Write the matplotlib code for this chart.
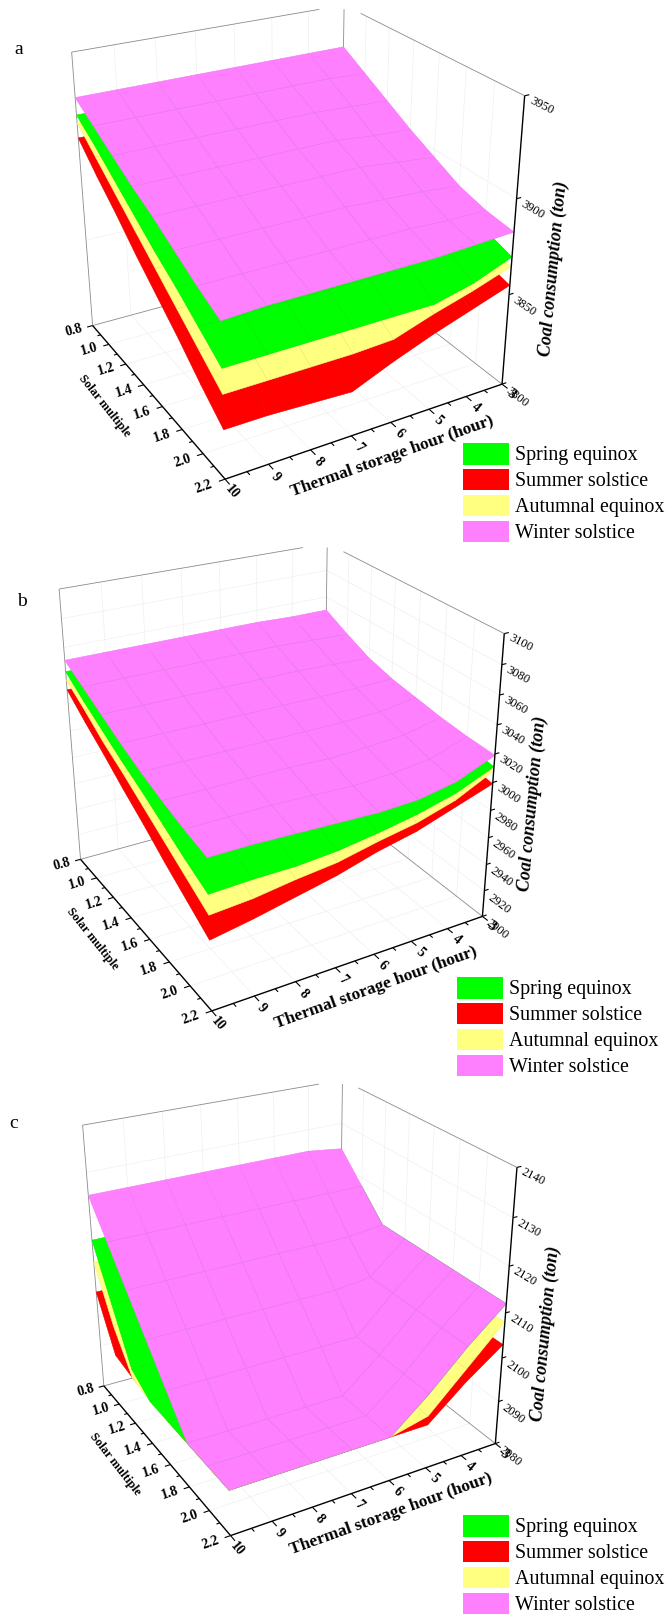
import numpy as np
import matplotlib
matplotlib.use('Agg')
import matplotlib.pyplot as plt
from matplotlib.patches import Patch
from mpl_toolkits.mplot3d.art3d import Line3DCollection

plt.rcParams['font.family'] = ['Liberation Serif', 'DejaVu Serif']

W, H = 669, 1618

# Axes values
hours = [10, 9, 8, 7, 6, 5, 4, 3]
solar = [0.8, 1.0, 1.2, 1.4, 1.6, 1.8, 2.0, 2.2]
hour_labels = ['10', '9', '8', '7', '6', '5', '4', '3']
solar_labels = ['0.8', '1.0', '1.2', '1.4', '1.6', '1.8', '2.0', '2.2']
z_ticks_a = [3800, 3850, 3900, 3950]
z_ticks_b = [2900, 2920, 2940, 2960, 2980, 3000, 3020, 3040, 3060, 3080, 3100]
z_ticks_c = [2080, 2090, 2100, 2110, 2120, 2130, 2140]

season_names = ['Spring equinox', 'Summer solstice', 'Autumnal equinox', 'Winter solstice']
season_colors = ['#00FF00', '#FF0000', '#FFFF80', '#FF80FF']

# Coal consumption, rows = solar multiple, columns = hours 10..3
spring_a = [[3918, 3918, 3918, 3918, 3918, 3918, 3917, 3917],
            [3910, 3910, 3910, 3910, 3910, 3910, 3910, 3909],
            [3901, 3901, 3901, 3901, 3901, 3901, 3902, 3902],
            [3892, 3892, 3892, 3892, 3892, 3893, 3894, 3895],
            [3883, 3883, 3883, 3883, 3883, 3884, 3886, 3888],
            [3875, 3875, 3875, 3875, 3875, 3876, 3878, 3881],
            [3866, 3866, 3866, 3866, 3866, 3867, 3870, 3875],
            [3857, 3857, 3857, 3857, 3857, 3857, 3862, 3870]]
summer_a = [[3906, 3906, 3906, 3906, 3906, 3906, 3905, 3905],
            [3894, 3894, 3894, 3894, 3894, 3895, 3895, 3895],
            [3883, 3883, 3883, 3883, 3883, 3884, 3885, 3885],
            [3871, 3871, 3871, 3871, 3872, 3874, 3875, 3877],
            [3860, 3860, 3860, 3860, 3862, 3864, 3867, 3870],
            [3849, 3849, 3849, 3848, 3852, 3855, 3859, 3864],
            [3837, 3837, 3837, 3836, 3842, 3848, 3853, 3859],
            [3826, 3826, 3825, 3824, 3833, 3841, 3848, 3855]]
autumn_a = [[3914, 3914, 3914, 3914, 3914, 3914, 3913, 3913],
            [3904, 3904, 3904, 3904, 3904, 3904, 3904, 3904],
            [3894, 3894, 3894, 3894, 3894, 3894, 3894, 3895],
            [3884, 3884, 3884, 3884, 3884, 3885, 3886, 3887],
            [3874, 3874, 3874, 3874, 3874, 3876, 3878, 3880],
            [3864, 3864, 3864, 3864, 3864, 3868, 3871, 3874],
            [3854, 3854, 3854, 3854, 3854, 3860, 3864, 3869],
            [3844, 3844, 3844, 3844, 3845, 3852, 3858, 3865]]
winter_a = [[3927, 3927, 3927, 3927, 3927, 3927, 3927, 3927],
            [3920, 3920, 3920, 3920, 3920, 3920, 3920, 3919],
            [3913, 3913, 3913, 3913, 3913, 3913, 3912, 3911],
            [3906, 3906, 3906, 3906, 3906, 3906, 3904, 3903],
            [3900, 3900, 3900, 3900, 3900, 3900, 3898, 3896],
            [3893, 3893, 3893, 3893, 3893, 3892, 3891, 3889],
            [3886, 3886, 3886, 3886, 3886, 3886, 3885, 3885],
            [3880, 3881, 3881, 3881, 3881, 3881, 3882, 3883]]

spring_b = [[3043, 3043, 3043, 3043, 3043, 3043, 3042, 3042],
            [3033, 3033, 3034, 3034, 3034, 3035, 3035, 3036],
            [3024, 3024, 3025, 3025, 3026, 3027, 3028, 3030],
            [3015, 3015, 3016, 3016, 3017, 3019, 3021, 3026],
            [3007, 3007, 3008, 3008, 3009, 3011, 3015, 3021],
            [2998, 2999, 2999, 3000, 3001, 3004, 3009, 3017],
            [2989, 2990, 2991, 2992, 2995, 2998, 3004, 3014],
            [2981, 2982, 2982, 2984, 2988, 2993, 3000, 3011]]
summer_b = [[3030, 3030, 3030, 3030, 3030, 3030, 3029, 3029],
            [3018, 3019, 3020, 3021, 3021, 3022, 3022, 3023],
            [3007, 3008, 3009, 3010, 3012, 3014, 3015, 3017],
            [2995, 2997, 2999, 3000, 3002, 3005, 3008, 3012],
            [2984, 2987, 2989, 2992, 2994, 2997, 3002, 3008],
            [2972, 2976, 2980, 2983, 2986, 2990, 2997, 3005],
            [2961, 2966, 2970, 2975, 2980, 2985, 2993, 3002],
            [2950, 2955, 2961, 2967, 2975, 2981, 2990, 2999]]
autumn_b = [[3037, 3037, 3037, 3037, 3037, 3037, 3036, 3036],
            [3027, 3027, 3028, 3028, 3029, 3029, 3029, 3030],
            [3016, 3017, 3018, 3018, 3019, 3020, 3022, 3025],
            [3007, 3008, 3008, 3009, 3011, 3012, 3015, 3020],
            [2997, 2998, 3000, 3001, 3003, 3005, 3009, 3016],
            [2987, 2989, 2991, 2992, 2995, 2998, 3003, 3013],
            [2977, 2979, 2982, 2984, 2988, 2992, 2998, 3010],
            [2967, 2969, 2973, 2976, 2982, 2987, 2995, 3008]]
winter_b = [[3051, 3051, 3051, 3051, 3051, 3051, 3050, 3050],
            [3043, 3043, 3043, 3043, 3043, 3043, 3042, 3041],
            [3035, 3035, 3035, 3035, 3035, 3035, 3034, 3033],
            [3027, 3027, 3027, 3027, 3027, 3027, 3027, 3028],
            [3020, 3020, 3020, 3020, 3020, 3020, 3021, 3025],
            [3014, 3014, 3014, 3014, 3013, 3014, 3016, 3022],
            [3009, 3009, 3009, 3008, 3007, 3008, 3011, 3020],
            [3005, 3005, 3004, 3003, 3002, 3003, 3008, 3019]]

spring_c = [[2115, 2115, 2115, 2115, 2115, 2115, 2115, 2114],
            [2104, 2104, 2104, 2104, 2104, 2104, 2105, 2118],
            [2093, 2093, 2093, 2093, 2093, 2097, 2105, 2112],
            [2090, 2090, 2090, 2090, 2090, 2097, 2105, 2112],
            [2090, 2090, 2090, 2090, 2090, 2097, 2105, 2112],
            [2090, 2090, 2090, 2090, 2090, 2097, 2105, 2112],
            [2090, 2090, 2090, 2090, 2090, 2097, 2105, 2112],
            [2090, 2090, 2090, 2090, 2090, 2097, 2105, 2112]]
summer_c = [[2103, 2103, 2103, 2103, 2103, 2103, 2103, 2103],
            [2092, 2092, 2092, 2092, 2092, 2092, 2097, 2103],
            [2091, 2091, 2091, 2091, 2091, 2091, 2097, 2103],
            [2091, 2091, 2091, 2091, 2091, 2091, 2097, 2103],
            [2090, 2090, 2090, 2090, 2090, 2090, 2097, 2103],
            [2090, 2090, 2090, 2090, 2090, 2090, 2097, 2103],
            [2090, 2090, 2090, 2090, 2090, 2090, 2097, 2103],
            [2090, 2090, 2090, 2090, 2090, 2090, 2097, 2103]]
autumn_c = [[2110, 2110, 2110, 2110, 2110, 2110, 2110, 2110],
            [2099, 2099, 2099, 2099, 2099, 2099, 2100, 2108],
            [2091, 2091, 2091, 2091, 2091, 2092, 2100, 2108],
            [2090, 2090, 2090, 2090, 2090, 2092, 2100, 2108],
            [2090, 2090, 2090, 2090, 2090, 2092, 2100, 2108],
            [2090, 2090, 2090, 2090, 2090, 2092, 2100, 2108],
            [2090, 2090, 2090, 2090, 2090, 2092, 2100, 2108],
            [2090, 2090, 2090, 2090, 2090, 2092, 2100, 2108]]
winter_c = [[2125, 2125, 2125, 2125, 2125, 2125, 2125, 2124],
            [2118, 2118, 2118, 2118, 2118, 2118, 2118, 2118],
            [2111, 2111, 2111, 2111, 2111, 2111, 2111, 2112],
            [2104, 2104, 2104, 2104, 2104, 2104, 2105, 2112],
            [2097, 2097, 2097, 2097, 2097, 2097, 2105, 2112],
            [2090, 2090, 2090, 2090, 2090, 2097, 2105, 2112],
            [2090, 2090, 2090, 2090, 2090, 2097, 2105, 2112],
            [2090, 2090, 2090, 2090, 2090, 2097, 2105, 2112]]

SX, SY = 2.344, 2.904
calib_a = [(10, 0.8, 3800, 215, 950), (10, 2.2, 3800, 527, 1388), (3, 2.2, 3800, 1172, 1120),
           (3, 0.8, 3800, 800, 745), (10, 0.8, 3950, 170, 150), (3, 0.8, 3950, 804, 17),
           (3, 2.2, 3950, 1228, 275), (3, 2.2, 3900, 1213, 580), (3, 2.2, 3850, 1197, 855),
           (7, 2.2, 3800, 825, 1265)]
calib_b = [(10, 0.8, 2900, 185, 930), (10, 2.2, 2900, 497, 1362), (3, 2.2, 2900, 1128, 1097),
           (3, 0.8, 2900, 762, 728), (10, 0.8, 3100, 140, 143), (3, 0.8, 3100, 766, 13),
           (3, 2.2, 3100, 1183, 265), (3, 2.2, 3020, 1160, 622), (3, 2.2, 3000, 1153, 708),
           (7, 2.2, 2900, 790, 1245)]
calib_c = [(10, 0.8, 2080, 240, 900), (10, 2.2, 2080, 540, 1325), (3, 2.2, 2080, 1160, 1065),
           (3, 0.8, 2080, 800, 700), (10, 0.8, 2140, 197, 135), (3, 0.8, 2140, 798, 9),
           (3, 2.2, 2140, 1215, 258), (3, 2.2, 2110, 1183, 680), (3, 2.2, 2090, 1168, 945),
           (7, 2.2, 2080, 825, 1205)]


def fit_camera(calib, y0):
    """Least squares pinhole matrix from (hour, solar, z) to figure pixels"""
    rows, rhs = [], []
    for h, s, z, px, py in calib:
        u, v = px / SX, H - (y0 + py / SY)
        rows.append([h, s, z, 1, 0, 0, 0, 0, -u * h, -u * s, -u * z])
        rows.append([0, 0, 0, 0, h, s, z, 1, -v * h, -v * s, -v * z])
        rhs += [u, v]
    rows, rhs = np.array(rows, float), np.array(rhs, float)
    scale = np.abs(rows).max(axis=0)
    p = np.linalg.lstsq(rows / scale, rhs, rcond=None)[0] / scale
    return np.append(p, 1.0).reshape(3, 4)


def use_camera(ax, cam, zmin, zmax):
    # mplot3d has no free camera matrix, so replace the projection it asks for
    w = cam[2] @ [6.5, 1.5, (zmin + zmax) / 2, 1]
    cam = cam / w
    depth = np.array([-1 / 7, -1 / 1.4, -1 / (zmax - zmin), 10 / 7 + 2.2 / 1.4 + zmin / (zmax - zmin)])

    def get_proj():
        inv = ax.transData.inverted().get_matrix()
        top = inv @ cam
        return np.vstack([top[0], top[1], depth, top[2]])
    ax.get_proj = get_proj


def put_text(cam, h, s, z, txt, direction, **kw):
    # rotation follows a box direction, like the perspective labels of the original
    p = cam @ [h, s, z, 1]
    q = cam @ [h + direction[0], s + direction[1], z + direction[2], 1]
    u, v = p[:2] / p[2]
    du, dv = q[:2] / q[2] - p[:2] / p[2]
    fig.text(u / W, v / H, txt, rotation=np.degrees(np.arctan2(dv, du)), rotation_mode='anchor',
             ha='center', va='center', **kw)


def draw_panel(box, cam, z_ticks, surfaces, gap_h, gap_s):
    ax = fig.add_axes(box, projection='3d', computed_zorder=False)
    ax.set_axis_off()
    ax.patch.set_visible(False)
    zmin, zmax = z_ticks[0], z_ticks[-1]
    use_camera(ax, cam, zmin, zmax)
    h0, h1, s0, s1 = hours[0], hours[-1], solar[0], solar[-1]

    # faint grid on floor and the two back walls
    grid = []
    for h in hours[1:-1]:
        grid.append([(h, s0, zmin), (h, s1, zmin)])
        grid.append([(h, s0, zmin), (h, s0, zmax)])
    for s in solar[1:-1]:
        grid.append([(h0, s, zmin), (h1, s, zmin)])
        grid.append([(h1, s, zmin), (h1, s, zmax)])
    for z in z_ticks[1:-1]:
        grid.append([(h0, s0, z), (h1, s0, z)])
        grid.append([(h1, s0, z), (h1, s1, z)])
    ax.add_collection3d(Line3DCollection(grid, colors='#f0f0f0', linewidths=0.5, zorder=1))

    # box edges, the back corner is cut off in the picture
    ztop = zmin + 0.985 * (zmax - zmin)
    edges = [[(h0, s0, zmin), (h1, s0, zmin)], [(h1, s0, zmin), (h1, s1, zmin)],
             [(h0, s0, zmin), (h0, s0, zmax)], [(h1, s0, zmin), (h1, s0, ztop)],
             [(h0, s0, zmax), (gap_h, s0, zmax)], [(h1, gap_s, zmax), (h1, s1, zmax)]]
    ax.add_collection3d(Line3DCollection(edges, colors='#8a8a8a', linewidths=0.6, zorder=1.5))

    X, Y = np.meshgrid(hours, solar)
    mesh = {'#FF0000': '#EF0000', '#FFFF80': '#F4F47A', '#00FF00': '#00EE00', '#FF80FF': '#F276F4'}
    # lowest surface first
    for order, i in enumerate([1, 2, 0, 3]):
        c = season_colors[i]
        ax.plot_surface(X, Y, np.array(surfaces[i], float), color=c, edgecolor=mesh[c],
                        linewidth=0.4, shade=False, zorder=2 + order)

    # axis lines and ticks
    axis = [[(h0, s0, zmin), (h0, s1, zmin)], [(h0, s1, zmin), (h1, s1, zmin)], [(h1, s1, zmin), (h1, s1, zmax)]]
    ax.add_collection3d(Line3DCollection(axis, colors='black', linewidths=1.0, zorder=7))
    ticks = []
    tk = dict(color='black', fontsize=10, fontweight='bold')
    for s, lab in zip(solar, solar_labels):
        ticks.append([(h0, s, zmin), (h0 + 0.14, s, zmin)])
        put_text(cam, h0 + 0.48, s, zmin, lab, (-1, 0, 0), **tk)
    for s in np.array(solar[:-1]) + 0.1:
        ticks.append([(h0, s, zmin), (h0 + 0.08, s, zmin)])
    for h, lab in zip(hours, hour_labels):
        ticks.append([(h, s1, zmin), (h, s1 + 0.04, zmin)])
        put_text(cam, h + 0.08, s1 + 0.09, zmin, lab, (0, 1, 0), **tk)
    for h in np.array(hours[:-1]) - 0.5:
        ticks.append([(h, s1, zmin), (h, s1 + 0.025, zmin)])
    for z in z_ticks:
        ticks.append([(h1, s1, z), (h1 - 0.12, s1, z)])
        put_text(cam, h1 + 0.05, s1 + 0.12, z, str(z), (0, 1, 0), fontsize=9)
    ax.add_collection3d(Line3DCollection(ticks, colors='black', linewidths=0.8, zorder=7))

    put_text(cam, h0 + 1.09, 1.47, zmin, 'Solar multiple', (0, 1, 0), fontsize=9, fontweight='bold')
    put_text(cam, 6.65, s1 + 0.21, zmin, 'Thermal storage hour (hour)', (-1, 0, 0), fontsize=12.5, fontweight='bold')
    put_text(cam, h1 - 0.32, s1 + 0.20, zmin + 0.48 * (zmax - zmin), 'Coal consumption (ton)', (0, 0, 1),
             fontsize=13, fontweight='bold', fontstyle='italic')
    return ax


def add_legend(x, y):
    handles = [Patch(facecolor=c, edgecolor='none') for c in season_colors]
    fig.legend(handles, season_names, loc='upper left', bbox_to_anchor=(x / W, 1 - y / H),
               frameon=False, fontsize=14.4, borderpad=0, borderaxespad=0, handlelength=2.3,
               handleheight=1.28, handletextpad=0.3, labelspacing=0.17)


fig = plt.figure(figsize=(W / 100, H / 100), dpi=100)

panels = [('a', 0, calib_a, z_ticks_a, [spring_a, summer_a, autumn_a, winter_a], 3.7, 0.95, (463, 443), (19, 49)),
          ('b', 540, calib_b, z_ticks_b, [spring_b, summer_b, autumn_b, winter_b], 3.7, 0.95, (457, 977), (22, 602)),
          ('c', 1078, calib_c, z_ticks_c, [spring_c, summer_c, autumn_c, winter_c], 3.7, 0.95, (463, 1515), (14, 1124))]

for name, y0, calib, z_ticks, surfaces, gap_h, gap_s, leg_xy, lab_xy in panels:
    cy = y0 + 270
    box = [0, 1 - (cy + W / 2) / H, 1, W / H]
    draw_panel(box, fit_camera(calib, y0), z_ticks, surfaces, gap_h, gap_s)
    add_legend(*leg_xy)
    fig.text(lab_xy[0] / W, 1 - lab_xy[1] / H, name, fontsize=14, ha='center', va='center')

fig.savefig('out.png', dpi=100)
